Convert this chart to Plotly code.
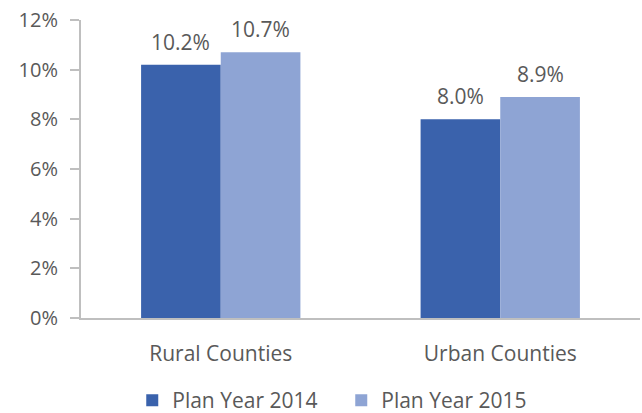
import plotly.graph_objects as go

categories = ["Rural Counties", "Urban Counties"]
series_names = ["Plan Year 2014", "Plan Year 2015"]
values_2014 = [10.2, 8.0]
values_2015 = [10.7, 8.9]
tick_vals = [0, 2, 4, 6, 8, 10, 12]
tick_text = ["0%", "2%", "4%", "6%", "8%", "10%", "12%"]

colors = ["#3A62AC", "#8EA4D4"]
font_family = "Open Sans, Liberation Sans, sans-serif"
gray = "#595959"

fig = go.Figure()
for name, vals, c in zip(series_names, [values_2014, values_2015], colors):
    fig.add_trace(go.Bar(
        x=categories, y=vals, name=name, marker=dict(color=c, line=dict(width=0)),
    ))

# data labels above bars
bar_offset = 40
for i, vals in enumerate([values_2014, values_2015]):
    for cat, v in zip(categories, vals):
        fig.add_annotation(x=cat, y=v, text=f"{v:.1f}%", showarrow=False,
                           xshift=(-bar_offset if i == 0 else bar_offset), yshift=7,
                           yanchor="bottom",
                           font=dict(size=21, color=gray, family=font_family))

fig.update_layout(
    width=642, height=413,
    margin=dict(l=81, r=2, t=20, b=95),
    barmode="group", bargap=0.43, bargroupgap=0,
    plot_bgcolor="white", paper_bgcolor="white",
    font=dict(family=font_family, color=gray, size=20),
    showlegend=True,
    legend=dict(orientation="h", xref="container", yref="container",
                x=0.206, xanchor="left", y=0.03, yanchor="middle",
                entrywidth=164,
                font=dict(size=21, color=gray), traceorder="normal"),
    xaxis=dict(showline=True, linecolor="#BFBFBF", linewidth=2, ticks="",
               tickfont=dict(size=21, color=gray), showgrid=False,
               automargin=False, ticklabelstandoff=16),
    yaxis=dict(range=[0, 12], tickvals=tick_vals, ticktext=tick_text,
               showline=True, linecolor="#BFBFBF", linewidth=2, ticks="outside",
               ticklen=9, tickcolor="#BFBFBF", tickwidth=2,
               showgrid=False, zeroline=False, automargin=False,
               ticklabelstandoff=8,
               tickfont=dict(size=20, color=gray)),
)

fig.write_html("out.html", config={"displayModeBar": False},
               post_script="document.body.style.margin='0';")
